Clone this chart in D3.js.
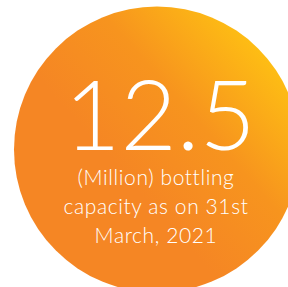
<!DOCTYPE html>
<html><head><meta charset="utf-8">
<script src="https://cdn.jsdelivr.net/npm/d3@7"></script>
<style>html,body{margin:0;padding:0;background:#fff;}svg{display:block;}</style>
</head><body>
<svg id="c" width="288" height="287"></svg>
<script>
const bigValue = ["12.5"];
const captionLines = ["(Million) bottling", "capacity as on 31st", "March, 2021"];
const gradientStops = [{offset: 0, color: "#FFC512"}, {offset: 0.55, color: "#F7941E"}, {offset: 1, color: "#F58624"}];

const svg = d3.select("#c");
const defs = svg.append("defs");
const g = defs.append("linearGradient").attr("id","grad")
  .attr("x1","0.88").attr("y1","0.08").attr("x2","0.35").attr("y2","0.55");
g.selectAll("stop").data(gradientStops).join("stop")
  .attr("offset", d=>d.offset).attr("stop-color", d=>d.color);

svg.append("circle").attr("cx",157).attr("cy",149.5).attr("r",143).attr("fill","url(#grad)");

const font = "Lato, 'Open Sans', sans-serif";
svg.selectAll("text.big").data(bigValue).join("text").attr("class","big")
  .attr("x",160).attr("y",150).attr("text-anchor","middle")
  .attr("font-family",font).attr("font-weight",300).attr("font-size",97)
  .attr("fill","#fff").text(d=>d);

const yLine = d3.scalePoint().domain(captionLines).range([185, 243]);
svg.selectAll("text.cap").data(captionLines).join("text").attr("class","cap")
  .attr("x",156).attr("y",d=>yLine(d)).attr("text-anchor","middle")
  .attr("font-family",font).attr("font-weight",300).attr("font-size",21)
  .attr("letter-spacing",0.6)
  .attr("fill","#fff").text(d=>d);
</script>
</body></html>
